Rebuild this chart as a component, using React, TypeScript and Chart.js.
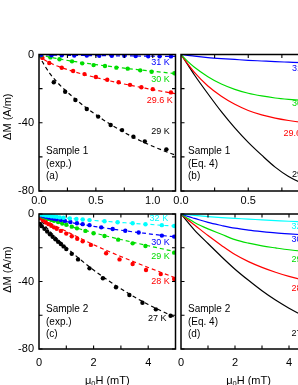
import React, { useEffect, useRef } from "react";
import { Chart, registerables } from "chart.js";
Chart.register(...registerables);

const FONT = "'Liberation Sans', Arial, Helvetica, sans-serif";
const BLACK = "#000000";
const RED = "#ff0000";
const GREEN = "#00dd00";
const BLUE = "#0000ff";
const CYAN = "#00ffff";

// ---------- Panel (a): Sample 1, experiment ----------
const a31x = [0.02, 0.11, 0.2, 0.31, 0.42, 0.53, 0.64, 0.75, 0.85, 0.96, 1.06, 1.16];
const a31y = [-0.2, -0.4, -0.5, -0.6, -0.6, -0.7, -0.8, -0.8, -0.9, -1.0, -1.0, -1.1];
const a30x = [0.02, 0.1, 0.18, 0.29, 0.38, 0.48, 0.58, 0.68, 0.78, 0.89, 0.99, 1.19];
const a30y = [-0.5, -1.7, -2.8, -4.0, -5.2, -6.2, -6.7, -7.7, -8.3, -9.3, -10.1, -11.0];
const a296x = [0.03, 0.09, 0.2, 0.3, 0.4, 0.5, 0.6, 0.7, 0.8, 0.9, 1.0, 1.16];
const a296y = [-2, -5, -7.8, -9.7, -11.5, -13.2, -14.8, -16.3, -17.8, -19.2, -20.3, -22.2];
const a29x = [0.13, 0.23, 0.32, 0.42, 0.52, 0.63, 0.73, 0.83, 0.93, 1.12];
const a29y = [-16.3, -21.8, -26.7, -31.9, -36.4, -41.3, -44.3, -48.2, -50.9, -55.6];
const aFitX = [0, 0.02, 0.05, 0.1, 0.15, 0.2, 0.3, 0.4, 0.5, 0.6, 0.7, 0.8, 0.9, 1.0, 1.1, 1.2];
const aFit31 = [0, -0.1, -0.2, -0.3, -0.4, -0.45, -0.5, -0.6, -0.65, -0.7, -0.8, -0.85, -0.9, -1.0, -1.05, -1.1];
const aFit30 = [0, -0.4, -0.9, -1.6, -2.3, -2.9, -4.0, -5.0, -5.9, -6.8, -7.6, -8.4, -9.1, -9.8, -10.5, -11.2];
const aFit296 = [0, -1.5, -3.2, -5, -6.5, -7.7, -9.9, -11.8, -13.5, -15.1, -16.6, -18, -19.3, -20.6, -21.8, -23];
const aFit29 = [0, -3, -6.5, -11.5, -15.5, -19, -25, -30.5, -35.3, -39.8, -43.8, -47.5, -50.8, -53.8, -56.5, -59];

// ---------- Panel (b): Sample 1, Eq. 4 ----------
const bX = [0, 0.05, 0.1, 0.2, 0.3, 0.4, 0.5, 0.6, 0.7, 0.8, 0.9, 1.0];
const b31 = [0, -0.5, -1.0, -1.8, -2.4, -2.9, -3.4, -3.8, -4.2, -4.5, -4.8, -5.0];
const b30 = [0, -4, -7.5, -13, -17.3, -20.4, -22.7, -24.3, -25.5, -26.3, -26.9, -27.3];
const b296 = [0, -5.5, -10.5, -18.5, -24.5, -29.2, -32.8, -35.4, -37.3, -38.7, -39.8, -40.6];
const b29 = [0, -6, -12, -23, -33.5, -43, -51.5, -59, -66, -71.5, -75.5, -78.5];

// ---------- Panel (c): Sample 2, experiment ----------
const c32x = [0.05, 0.15, 0.25, 0.35, 0.45, 0.55, 0.65, 0.76, 0.9, 1.13, 1.37, 1.6, 1.85, 2.4, 2.88, 3.43, 3.9, 4.5, 4.95];
const c32y = [-0.3, -0.6, -0.9, -1.1, -1.3, -1.5, -1.7, -2.0, -2.2, -2.6, -3.0, -3.3, -3.6, -4.3, -4.9, -5.5, -6.1, -6.6, -7.1];
const c30x = [0.05, 0.15, 0.25, 0.35, 0.45, 0.55, 0.65, 0.8, 0.95, 1.15, 1.39, 1.6, 1.85, 2.28, 2.7, 3.16, 3.65, 4.5, 4.95];
const c30y = [-0.6, -1.2, -1.7, -2.1, -2.5, -2.8, -3.1, -3.6, -4.1, -4.7, -5.5, -6.0, -6.6, -7.9, -8.9, -9.9, -11.0, -12.8, -13.4];
const c29x = [0.05, 0.15, 0.25, 0.35, 0.45, 0.55, 0.7, 0.85, 1.0, 1.2, 1.39, 1.7, 2.0, 2.4, 2.9, 3.43, 3.9, 4.95];
const c29y = [-0.8, -1.6, -2.3, -2.9, -3.5, -4.0, -4.8, -5.6, -6.4, -7.5, -8.5, -10, -11.4, -13, -15.2, -17.4, -19, -22.9];
const c28x = [0.05, 0.15, 0.25, 0.35, 0.45, 0.55, 0.65, 0.8, 1.0, 1.2, 1.4, 1.6, 1.9, 2.46, 2.95, 3.43, 3.92, 4.46, 4.95];
const c28y = [-2.5, -3.8, -5, -6, -7, -7.9, -8.8, -10, -11.6, -13.2, -14.7, -16.2, -18.3, -23.3, -26.9, -29.6, -33.2, -35.6, -38.5];
const c27x = [0.04, 0.1, 0.2, 0.3, 0.4, 0.5, 0.6, 0.7, 0.8, 0.9, 1.0, 1.2, 1.43, 1.85, 2.34, 2.82, 3.31, 3.79, 4.28, 4.82];
const c27y = [-5.9, -7.2, -8.8, -10.4, -12, -13.5, -15, -16.4, -17.8, -19.2, -20.8, -23.6, -26.9, -32.2, -38.1, -43.4, -48, -52.6, -56.5, -60.3];
const cFitX = [0, 0.1, 0.25, 0.5, 0.75, 1, 1.5, 2, 2.5, 3, 3.5, 4, 4.5, 5];
const cFit32 = [0, -0.4, -0.8, -1.4, -1.9, -2.4, -3.1, -3.8, -4.4, -5.0, -5.6, -6.1, -6.7, -7.2];
const cFit30 = [0, -0.9, -1.7, -2.8, -3.7, -4.5, -6.0, -7.3, -8.5, -9.6, -10.7, -11.7, -12.7, -13.6];
const cFit29 = [0, -1.2, -2.3, -3.9, -5.3, -6.6, -8.9, -11.1, -13.2, -15.1, -17, -18.8, -20.6, -22.4];
const cFit28 = [0, -1.8, -3.6, -6.2, -8.3, -10.3, -14.3, -18.2, -21.8, -25.2, -28.5, -31.7, -34.8, -37.9];
const cFit27 = [0, -4, -7.5, -12, -16, -19.8, -26.8, -33.2, -39, -44.3, -49.2, -53.6, -57.6, -61.3];

// ---------- Panel (d): Sample 2, Eq. 4 ----------
const dX = [0, 0.25, 0.5, 1, 1.5, 2, 2.5, 3, 3.5, 4, 4.5, 5];
const d32 = [0, -0.4, -0.8, -1.5, -2.1, -2.6, -3.0, -3.5, -3.9, -4.3, -4.6, -4.9];
const d30 = [0, -1.4, -2.6, -5, -6.8, -8.4, -9.5, -10.4, -11.2, -11.8, -12.3, -12.7];
const d29 = [0, -2.6, -5, -8.8, -12, -15.2, -17.3, -18.9, -20.1, -21.2, -22, -22.6];
const d28 = [0, -3.4, -6.5, -12.8, -18.6, -24, -28.2, -31.6, -34.5, -37, -39, -40.5];
const d27 = [0, -4.8, -9.5, -17.5, -25.3, -32.7, -39.3, -45.5, -51, -55.8, -60, -63.5];

// ---------- Axes ----------
const yRange = [-80, 0];
const yTickLabels = [0, -40, -80];
const yTickMarks = [0, -20, -40, -60, -80];
const xRangeTop = [0, 1.2];
const xRangeTopB = [0, 1.0];
const xTickLabelsTop = [0, 0.5, 1.0];
const xTickMarksTop = [0.25, 0.5, 0.75, 1.0];
const xRangeBottom = [0, 5];
const xTickLabelsBottom = [0, 2, 4];
const xTickMarksBottom = [1, 2, 3, 4];

// ---------- Texts ----------
const yTitle = "ΔM (A/m)";
const labelsA = ["31 K", "30 K", "29.6 K", "29 K"];
const labelsC = ["32 K", "30 K", "29 K", "28 K", "27 K"];
const textA = ["Sample 1", "(exp.)", "(a)"];
const textB = ["Sample 1", "(Eq. 4)", "(b)"];
const textC = ["Sample 2", "(exp.)", "(c)"];
const textD = ["Sample 2", "(Eq. 4)", "(d)"];

const pts = (xs: number[], ys: number[]) => xs.map((x, i) => ({ x, y: ys[i] }));

const dots = (xs: number[], ys: number[], color: string) => ({
  data: pts(xs, ys),
  showLine: false,
  pointRadius: 2.2,
  pointBorderWidth: 0,
  backgroundColor: color,
  borderColor: color,
});
const dashed = (xs: number[], ys: number[], color: string) => ({
  data: pts(xs, ys),
  showLine: true,
  pointRadius: 0,
  borderWidth: 1.2,
  borderDash: [4, 3],
  borderColor: color,
  backgroundColor: color,
  cubicInterpolationMode: "monotone",
});
const solid = (xs: number[], ys: number[], color: string) => ({
  data: pts(xs, ys),
  showLine: true,
  pointRadius: 0,
  borderWidth: 1.2,
  borderColor: color,
  backgroundColor: color,
  cubicInterpolationMode: "monotone",
});

type Lab = { text: string; x: number; y: number; color: string };
type Deco = {
  xMarks: number[];
  yMarks: number[];
  labels: Lab[];
  panelText: string[];
  yTitlePos?: { x: number; y: number };
  xTitleY?: number;
};

function decoPlugin(d: Deco) {
  return {
    id: "deco",
    afterDatasetsDraw(chart: any) {
      const { ctx, chartArea: ca, scales } = chart;
      const xs = scales.x;
      const ys = scales.y;
      ctx.save();
      ctx.strokeStyle = "#000";
      ctx.lineWidth = 1.5;
      ctx.strokeRect(ca.left, ca.top, ca.right - ca.left, ca.bottom - ca.top);
      const L = 3.5;
      ctx.lineWidth = 1.1;
      ctx.beginPath();
      for (const v of d.xMarks) {
        const p = xs.getPixelForValue(v);
        ctx.moveTo(p, ca.bottom);
        ctx.lineTo(p, ca.bottom - L);
        ctx.moveTo(p, ca.top);
        ctx.lineTo(p, ca.top + L);
      }
      for (const v of d.yMarks) {
        const p = ys.getPixelForValue(v);
        ctx.moveTo(ca.left, p);
        ctx.lineTo(ca.left + L, p);
        ctx.moveTo(ca.right, p);
        ctx.lineTo(ca.right - L, p);
      }
      ctx.stroke();
      ctx.font = `9px ${FONT}`;
      ctx.textAlign = "right";
      ctx.textBaseline = "middle";
      for (const l of d.labels) {
        ctx.fillStyle = l.color;
        ctx.fillText(l.text, xs.getPixelForValue(l.x), ys.getPixelForValue(l.y));
      }
      ctx.font = `10px ${FONT}`;
      ctx.fillStyle = "#000";
      ctx.textAlign = "left";
      ctx.textBaseline = "alphabetic";
      const offs = [37, 24.5, 12];
      d.panelText.forEach((t, i) => ctx.fillText(t, ca.left + 7, ca.bottom - offs[i]));
      if (d.yTitlePos) {
        ctx.save();
        ctx.translate(d.yTitlePos.x, d.yTitlePos.y);
        ctx.rotate(-Math.PI / 2);
        ctx.font = `11px ${FONT}`;
        ctx.textAlign = "center";
        ctx.textBaseline = "middle";
        ctx.fillText(yTitle, 0, 0);
        ctx.restore();
      }
      if (d.xTitleY !== undefined) {
        const big = `11px ${FONT}`;
        const small = `7.5px ${FONT}`;
        ctx.font = big;
        const w1 = ctx.measureText("μ").width;
        const w3 = ctx.measureText("H (mT)").width;
        ctx.font = small;
        const w2 = ctx.measureText("0").width;
        const total = w1 + w2 + w3;
        let x = (ca.left + ca.right) / 2 - total / 2;
        const y = d.xTitleY;
        ctx.textAlign = "left";
        ctx.textBaseline = "alphabetic";
        ctx.font = big;
        ctx.fillText("μ", x, y);
        x += w1;
        ctx.font = small;
        ctx.fillText("0", x, y + 2.5);
        x += w2;
        ctx.font = big;
        ctx.fillText("H (mT)", x, y);
      }
      ctx.restore();
    },
  };
}

function makeConfig(opts: {
  datasets: any[];
  xRange: number[];
  xLabels: number[];
  xFmt: (v: number) => string;
  xHeight: number;
  xPad: number;
  showY: boolean;
  padding: any;
  deco: Deco;
}) {
  return {
    type: "scatter",
    data: { datasets: opts.datasets },
    options: {
      responsive: false,
      animation: false,
      events: [],
      layout: { padding: opts.padding },
      plugins: { legend: { display: false }, tooltip: { enabled: false } },
      scales: {
        x: {
          type: "linear",
          min: opts.xRange[0],
          max: opts.xRange[1],
          grid: { display: false, drawTicks: false },
          border: { display: false },
          afterBuildTicks: (s: any) => {
            s.ticks = opts.xLabels.map((v) => ({ value: v }));
          },
          afterFit: (s: any) => {
            s.height = opts.xHeight;
          },
          ticks: {
            font: { family: FONT, size: 11 },
            color: "#000",
            padding: opts.xPad,
            maxRotation: 0,
            autoSkip: false,
            callback: (v: any) => opts.xFmt(Number(v)),
          },
        },
        y: {
          type: "linear",
          display: opts.showY,
          min: yRange[0],
          max: yRange[1],
          grid: { display: false, drawTicks: false },
          border: { display: false },
          afterBuildTicks: (s: any) => {
            s.ticks = yTickLabels.map((v) => ({ value: v }));
          },
          afterFit: (s: any) => {
            s.width = opts.showY ? 39 : 0;
          },
          ticks: {
            font: { family: FONT, size: 11 },
            color: "#000",
            padding: 5,
            autoSkip: false,
            callback: (v: any) => String(v),
          },
        },
      },
    },
    plugins: [decoPlugin(opts.deco)],
  };
}

function Panel({ left, top, width, height, make }: any) {
  const ref = useRef<HTMLCanvasElement>(null);
  useEffect(() => {
    const chart = new Chart(ref.current as HTMLCanvasElement, make() as any);
    return () => chart.destroy();
  }, []);
  return (
    <canvas
      ref={ref}
      width={width}
      height={height}
      style={{ position: "absolute", left, top, width, height }}
    />
  );
}

const fmt1 = (v: number) => v.toFixed(1);
const fmt0 = (v: number) => String(v);

const makeA = () =>
  makeConfig({
    datasets: [
      dots(a31x, a31y, BLUE),
      dots(a30x, a30y, GREEN),
      dots(a296x, a296y, RED),
      dots(a29x, a29y, BLACK),
      dashed(aFitX, aFit31, BLUE),
      dashed(aFitX, aFit30, GREEN),
      dashed(aFitX, aFit296, RED),
      dashed(aFitX, aFit29, BLACK),
    ],
    xRange: xRangeTop,
    xLabels: xTickLabelsTop,
    xFmt: fmt1,
    xHeight: 19,
    xPad: 3,
    showY: true,
    padding: { left: 0, top: 14.5, right: 4.5, bottom: 0 },
    deco: {
      xMarks: xTickMarksTop,
      yMarks: yTickMarks,
      labels: [
        { text: labelsA[0], x: 1.149, y: -4.7, color: BLUE },
        { text: labelsA[1], x: 1.149, y: -14.4, color: GREEN },
        { text: labelsA[2], x: 1.175, y: -26.7, color: RED },
        { text: labelsA[3], x: 1.149, y: -45, color: BLACK },
      ],
      panelText: textA,
      yTitlePos: { x: 7.5, y: 76.7 },
    },
  });

const makeB = () =>
  makeConfig({
    datasets: [
      solid(bX, b31, BLUE),
      solid(bX, b30, GREEN),
      solid(bX, b296, RED),
      solid(bX, b29, BLACK),
    ],
    xRange: xRangeTopB,
    xLabels: xTickLabelsTop,
    xFmt: fmt1,
    xHeight: 19,
    xPad: 3,
    showY: false,
    padding: { left: 21, top: 14.5, right: 24.5, bottom: 0 },
    deco: {
      xMarks: [0.25, 0.5, 0.75],
      yMarks: yTickMarks,
      labels: [
        { text: labelsA[0], x: 0.963, y: -8, color: BLUE },
        { text: labelsA[1], x: 0.963, y: -28.6, color: GREEN },
        { text: labelsA[2], x: 0.955, y: -46.6, color: RED },
        { text: labelsA[3], x: 0.963, y: -70.6, color: BLACK },
      ],
      panelText: textB,
    },
  });

const makeC = () =>
  makeConfig({
    datasets: [
      dots(c32x, c32y, CYAN),
      dots(c30x, c30y, BLUE),
      dots(c29x, c29y, GREEN),
      dots(c28x, c28y, RED),
      dots(c27x, c27y, BLACK),
      dashed(cFitX, cFit32, CYAN),
      dashed(cFitX, cFit30, BLUE),
      dashed(cFitX, cFit29, GREEN),
      dashed(cFitX, cFit28, RED),
      dashed(cFitX, cFit27, BLACK),
    ],
    xRange: xRangeBottom,
    xLabels: xTickLabelsBottom,
    xFmt: fmt0,
    xHeight: 36,
    xPad: 7,
    showY: true,
    padding: { left: 0, top: 14, right: 4.5, bottom: 0 },
    deco: {
      xMarks: xTickMarksBottom,
      yMarks: yTickMarks,
      labels: [
        { text: labelsC[0], x: 4.73, y: -2.5, color: CYAN },
        { text: labelsC[1], x: 4.79, y: -16.8, color: BLUE },
        { text: labelsC[2], x: 4.79, y: -25, color: GREEN },
        { text: labelsC[3], x: 4.79, y: -40.2, color: RED },
        { text: labelsC[4], x: 4.67, y: -61.8, color: BLACK },
      ],
      panelText: textC,
      yTitlePos: { x: 7.5, y: 69.5 },
      xTitleY: 183.5,
    },
  });

const makeD = () =>
  makeConfig({
    datasets: [
      solid(dX, d32, CYAN),
      solid(dX, d30, BLUE),
      solid(dX, d29, GREEN),
      solid(dX, d28, RED),
      solid(dX, d27, BLACK),
    ],
    xRange: xRangeBottom,
    xLabels: xTickLabelsBottom,
    xFmt: fmt0,
    xHeight: 36,
    xPad: 7,
    showY: false,
    padding: { left: 21, top: 14, right: 24, bottom: 0 },
    deco: {
      xMarks: xTickMarksBottom,
      yMarks: yTickMarks,
      labels: [
        { text: labelsC[0], x: 4.78, y: -7.5, color: CYAN },
        { text: labelsC[1], x: 4.78, y: -15.4, color: BLUE },
        { text: labelsC[2], x: 4.78, y: -26.8, color: GREEN },
        { text: labelsC[3], x: 4.78, y: -44, color: RED },
        { text: labelsC[4], x: 4.78, y: -71, color: BLACK },
      ],
      panelText: textD,
      xTitleY: 183.5,
    },
  });

export default function App() {
  return (
    <div
      style={{
        position: "absolute",
        left: 0,
        top: 0,
        width: 298,
        height: 385,
        overflow: "hidden",
        background: "#fff",
      }}
    >
      <Panel left={0} top={40} width={180} height={170} make={makeA} />
      <Panel left={0} top={200} width={180} height={185} make={makeC} />
      <Panel left={160} top={40} width={180} height={170} make={makeB} />
      <Panel left={160} top={200} width={180} height={185} make={makeD} />
    </div>
  );
}
